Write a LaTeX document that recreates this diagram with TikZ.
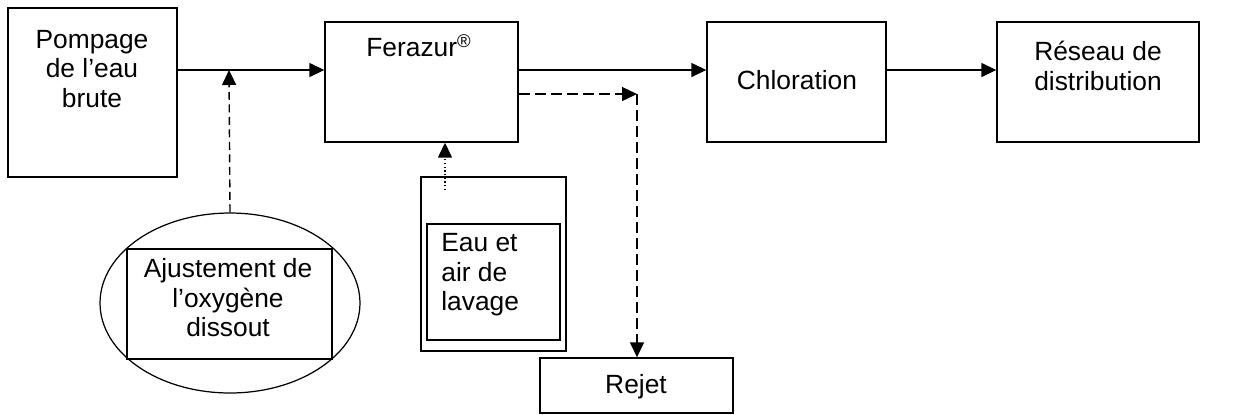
\documentclass[tikz,border=0pt]{standalone}
\usepackage{fontspec}
\setmainfont{Liberation Sans}
\usetikzlibrary{arrows.meta,shapes.geometric}

\begin{document}
\begin{tikzpicture}[x=0.02cm,y=-0.02cm,
    every node/.style={font=\fontsize{15}{16.8}\selectfont},
    flow/.style={line width=0.8pt,-{Triangle[length=0.3cm,width=0.28cm]}},
    waste/.style={flow,dash pattern=on 0.22cm off 0.1cm},
    oxy/.style={flow,dash pattern=on 0.16cm off 0.09cm},
    wash/.style={flow,dash pattern=on 0.7pt off 1.4pt}]

        \useasboundingbox (0,0) rectangle (1241,414);

        \begin{scope}[every node/.style={draw,line width=0.8pt,inner sep=0pt}]
          \node (pompage)    at (92.5,92.5) [minimum width=3.38cm,minimum height=3.38cm] {};
          \node (ferazur)    at (421.5,82)  [minimum width=3.86cm,minimum height=2.4cm] {};
          \node (chloration) at (796.5,82)  [minimum width=3.58cm,minimum height=2.4cm] {};
          \node (reseau)     at (1098,82)   [minimum width=4.04cm,minimum height=2.4cm] {};
          \node (lavage)     at (493.5,264) [minimum width=2.9cm,minimum height=3.48cm] {};
          \node (eau)        at (493.5,282) [minimum width=2.66cm,minimum height=2.32cm] {};
          \node (rejet)      at (636.5,385.5) [minimum width=3.86cm,minimum height=1.1cm] {};
          \node (oxygene)    at (230,303)   [ellipse,line width=0.7pt,minimum width=5.2cm,minimum height=3.6cm] {};
          \node (ajustement) at (229.5,304) [minimum width=4.1cm,minimum height=2.2cm] {};
        \end{scope}

        \begin{scope}[every node/.style={font=\fontsize{15}{16.8}\selectfont,inner sep=0pt,align=center}]
          \node (pompageT)    at (92,69)   {Pompage\\de l'eau\\brute};
          \node (ferazurT)    at (419,46)  {Ferazur\textsuperscript{®}};
          \node (chlorationT) at (797,80)  {Chloration};
          \node (reseauT)     at (1098,66) {Réseau de\\distribution};
          \node (eauT)        at (441,275) [anchor=west,align=left] {Eau et\\air de\\lavage};
          \node (ajustementT) at (228,298) {Ajustement de\\l'oxygène\\dissout};
          \node (rejetT)      at (636,387) {Rejet};
        \end{scope}

        \coordinate (main) at (0,70);
        \coordinate (join) at (229,70);
        \coordinate (bend) at (637,94);
        \coordinate (wstart) at (445,190);

        \path (pompage.east |- main) edge[flow] (ferazur.west |- main);
        \path (oxygene.north) edge[oxy] (join);
        \path (ferazur.east |- main) edge[flow] (chloration.west |- main);
        \path (chloration.east |- main) edge[flow] (reseau.west |- main);
        \path (ferazur.east |- bend) edge[waste] (bend);
        \path (bend) edge[waste] (rejet.north -| bend);
        \path (wstart) edge[wash] (wstart |- ferazur.south);

      \end{tikzpicture}
\end{document}
